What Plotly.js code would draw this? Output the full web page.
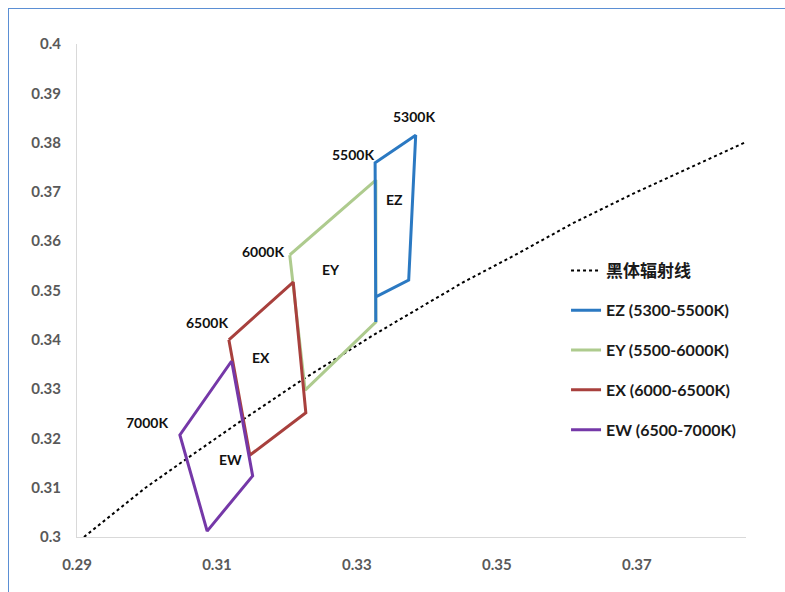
<!DOCTYPE html>
<html>
<head>
<meta charset="utf-8">
<script src="https://cdn.plot.ly/plotly-3.0.1.min.js"></script>
<style>
  html, body { margin: 0; padding: 0; background: #ffffff; }
  #frame { position: absolute; left: 8px; top: 8px; width: 800px; height: 600px;
           border-left: 1px solid #5b8fd4; border-top: 1px solid #5b8fd4; pointer-events: none; z-index: 5; }
  #chart { width: 785px; height: 592px; }
</style>
</head>
<body>
<div id="frame"></div>
<div id="chart"></div>
<script>
// Planckian (blackbody) locus
const locusX = [0.2910, 0.2952, 0.2998, 0.3064, 0.3135, 0.3221, 0.3324, 0.3451, 0.3530, 0.3608, 0.3700, 0.3805, 0.3854];
const locusY = [0.3000, 0.3048, 0.3100, 0.3166, 0.3236, 0.3318, 0.3410, 0.3516, 0.3575, 0.3636, 0.3700, 0.3768, 0.3800];

// EZ (5300-5500K)
const ezX = [0.3327, 0.3374, 0.3384, 0.3326, 0.3327];
const ezY = [0.3487, 0.3521, 0.3815, 0.3759, 0.3436];
// EY (5500-6000K)
const eyX = [0.3204, 0.3327, 0.3327, 0.3226, 0.3204];
const eyY = [0.3572, 0.3724, 0.3436, 0.3298, 0.3572];
// EX (6000-6500K)
const exX = [0.3117, 0.3209, 0.3227, 0.3147, 0.3117];
const exY = [0.3400, 0.3517, 0.3252, 0.3166, 0.3400];
// EW (6500-7000K)
const ewX = [0.3121, 0.3047, 0.3086, 0.3151, 0.3121];
const ewY = [0.3357, 0.3207, 0.3012, 0.3124, 0.3357];

const seriesNames = ['黑体辐射线', 'EZ (5300-5500K)', 'EY (5500-6000K)', 'EX (6000-6500K)', 'EW (6500-7000K)'];

// Labels on the chart
const labelText = ['5300K', '5500K', 'EZ', '6000K', 'EY', '6500K', 'EX', '7000K', 'EW'];
const labelX = [0.3381, 0.3294, 0.3354, 0.3166, 0.3263, 0.3086, 0.3163, 0.3000, 0.3120];
const labelY = [0.3852, 0.3775, 0.3684, 0.3580, 0.3542, 0.3436, 0.3365, 0.3233, 0.3158];

const xTickVals = [0.29, 0.31, 0.33, 0.35, 0.37];
const xTickText = ['0.29', '0.31', '0.33', '0.35', '0.37'];
const yTickVals = [0.30, 0.31, 0.32, 0.33, 0.34, 0.35, 0.36, 0.37, 0.38, 0.39, 0.40];
const yTickText = ['0.3', '0.31', '0.32', '0.33', '0.34', '0.35', '0.36', '0.37', '0.38', '0.39', '0.4'];

const fontFam = 'Lato, "Noto Sans CJK SC", sans-serif';

const traces = [
  {x: locusX, y: locusY, mode: 'lines', name: '<span style="font-family:\'Noto Sans CJK SC\';font-size:17px">' + seriesNames[0] + '</span>',
   line: {color: '#000000', width: 2, dash: 'dot'}, legendrank: 1, legendgroup: 'a'},
  {x: eyX, y: eyY, mode: 'lines', name: seriesNames[2], line: {color: '#aecb8e', width: 3}, legendrank: 3, legendgroup: 'c'},
  {x: ezX, y: ezY, mode: 'lines', name: seriesNames[1], line: {color: '#2b79c2', width: 3}, legendrank: 2, legendgroup: 'b'},
  {x: exX, y: exY, mode: 'lines', name: seriesNames[3], line: {color: '#a8403d', width: 3}, legendrank: 4, legendgroup: 'd'},
  {x: ewX, y: ewY, mode: 'lines', name: seriesNames[4], line: {color: '#7538a8', width: 3}, legendrank: 5, legendgroup: 'e'}
];

const annotations = labelText.map((t, i) => ({
  x: labelX[i], y: labelY[i], xref: 'x', yref: 'y', text: t, showarrow: false,
  font: {family: fontFam, size: 14, color: '#111111', weight: 'bold'}
}));

const layout = {
  width: 785, height: 592,
  margin: {l: 77, r: 39, t: 44, b: 55},
  paper_bgcolor: '#ffffff', plot_bgcolor: '#ffffff',
  showlegend: true,
  legend: {x: 0.731, y: 0.575, xanchor: 'left', yanchor: 'top', traceorder: 'grouped',
           tracegroupgap: 16, bgcolor: 'rgba(0,0,0,0)',
           font: {family: fontFam, size: 16, color: '#1a1a1a', weight: 'bold'}},
  xaxis: {range: [0.29, 0.3856], showgrid: false, zeroline: false, showline: true, linecolor: '#d9d9d9', linewidth: 1,
          tickmode: 'array', tickvals: xTickVals, ticktext: xTickText, ticks: '', ticklabelstandoff: 14,
          tickfont: {family: fontFam, size: 15, color: '#595959', weight: 'bold'}},
  yaxis: {range: [0.3, 0.4], showgrid: false, zeroline: false, showline: true, linecolor: '#d9d9d9', linewidth: 1,
          tickmode: 'array', tickvals: yTickVals, ticktext: yTickText, ticks: '', ticklabelstandoff: 12,
          tickfont: {family: fontFam, size: 15, color: '#595959', weight: 'bold'}},
  annotations: annotations
};

Plotly.newPlot('chart', traces, layout, {displayModeBar: false, staticPlot: true});
</script>
</body>
</html>
